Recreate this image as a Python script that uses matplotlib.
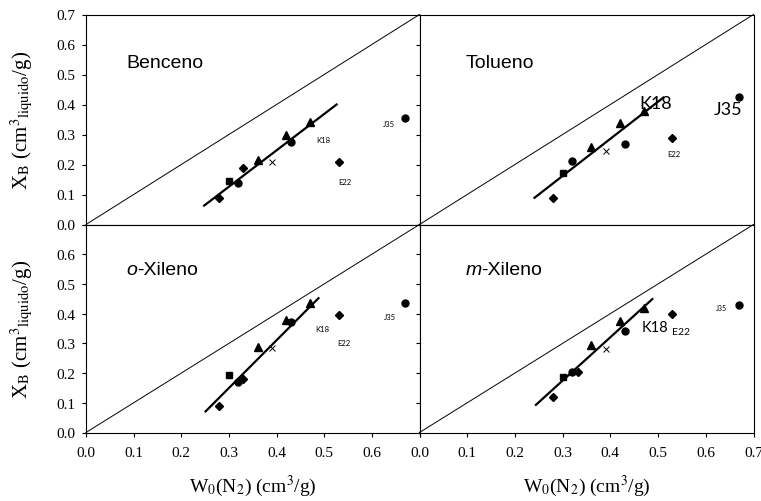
import matplotlib
matplotlib.use("Agg")
import matplotlib.pyplot as plt

plt.rcParams["font.family"] = "Liberation Serif"
plt.rcParams["mathtext.fontset"] = "stix"

# -----------------------------
# Data
# -----------------------------
panel_names = ["Benceno", "Tolueno", "o-Xileno", "m-Xileno"]

diamond_x = [[0.28, 0.33, 0.53], [0.28, 0.53], [0.28, 0.33, 0.53], [0.28, 0.332, 0.53]]
diamond_y = [[0.09, 0.19, 0.21], [0.088, 0.29], [0.088, 0.18, 0.395], [0.12, 0.205, 0.40]]

square_x = [[0.30], [0.30], [0.30], [0.30]]
square_y = [[0.145], [0.173], [0.195], [0.188]]

circle_x = [[0.32, 0.43, 0.67], [0.32, 0.43, 0.67], [0.32, 0.43, 0.67], [0.32, 0.43, 0.67]]
circle_y = [[0.14, 0.275, 0.355], [0.212, 0.268, 0.425], [0.17, 0.373, 0.436], [0.203, 0.343, 0.428]]

triangle_x = [[0.36, 0.42, 0.47], [0.36, 0.42, 0.47], [0.36, 0.42, 0.47], [0.36, 0.42, 0.47]]
triangle_y = [[0.215, 0.30, 0.343], [0.26, 0.34, 0.378], [0.289, 0.38, 0.437], [0.295, 0.374, 0.42]]

cross_x = [[0.39], [0.39], [0.39], [0.39]]
cross_y = [[0.21], [0.246], [0.283], [0.282]]

fit_x = [[0.248, 0.526], [0.241, 0.511], [0.251, 0.488], [0.244, 0.488]]
fit_y = [[0.063, 0.40], [0.089, 0.423], [0.071, 0.452], [0.093, 0.449]]

# sample labels: (text, x, y, fontsize)
sample_labels = [
    [("K18", 0.498, 0.284, 5.5), ("E22", 0.543, 0.142, 5.5), ("J35", 0.635, 0.336, 5.5)],
    [("K18", 0.496, 0.405, 13), ("E22", 0.532, 0.237, 5.5), ("J35", 0.647, 0.385, 13)],
    [("K18", 0.495, 0.349, 5.5), ("E22", 0.541, 0.302, 5.5), ("J35", 0.637, 0.39, 5.5)],
    [("K18", 0.494, 0.355, 10.5), ("E22", 0.548, 0.34, 7.5), ("J35", 0.633, 0.419, 5)],
]

ticks = [0.0, 0.1, 0.2, 0.3, 0.4, 0.5, 0.6, 0.7]

W, H = 761, 502
fig = plt.figure(figsize=(W / 100, H / 100), dpi=100)

# panel boxes in pixels: (left, top, right, bottom)
boxes = [
    (86, 15.5, 419.5, 225.5),
    (419.5, 15.5, 753.5, 225.5),
    (86, 225.5, 419.5, 433.5),
    (419.5, 225.5, 753.5, 433.5),
]

for i, (l, t, r, b) in enumerate(boxes):
    ax = fig.add_axes([l / W, 1 - b / H, (r - l) / W, (b - t) / H])
    ax.set_xlim(0, 0.7)
    ax.set_ylim(0, 0.7)

    # 1:1 reference line
    ax.plot([0, 0.7], [0, 0.7], color="black", linewidth=0.7, clip_on=False)
    # linear fit
    ax.plot(fit_x[i], fit_y[i], color="black", linewidth=1.6)

    ax.plot(diamond_x[i], diamond_y[i], "D", color="black", markersize=4.5)
    ax.plot(square_x[i], square_y[i], "s", color="black", markersize=5)
    ax.plot(circle_x[i], circle_y[i], "o", color="black", markersize=5)
    ax.plot(triangle_x[i], triangle_y[i], "^", color="black", markersize=5.5)
    ax.plot(cross_x[i], cross_y[i], "x", color="black", markersize=5, markeredgewidth=0.7)

    for txt, tx, ty, fs in sample_labels[i]:
        ax.text(tx, ty, txt, fontsize=fs, family="Lato",
                ha="center", va="center")

    # panel title (italic prefix for the xylenes)
    name = panel_names[i]
    tx0 = 0.085 if i % 2 == 0 else 0.096
    if name[1] == "-":
        pre = ax.text(tx0, 0.535, name[0], fontsize=14, family="Liberation Sans",
                      style="italic", va="baseline")
        ax.annotate(name[1:], xy=(1, 0), xycoords=pre, fontsize=14,
                    family="Liberation Sans", va="bottom", ha="left")
    else:
        ax.text(tx0, 0.54, name, fontsize=14, family="Liberation Sans", va="center")

    ax.set_xticks(ticks)
    ax.set_yticks(ticks)
    ax.tick_params(direction="out", length=3, width=0.8, labelsize=11,
                   colors="black")
    ax.tick_params(axis="x", pad=7)
    ax.tick_params(axis="y", pad=5)

    if i < 2:
        ax.set_xticklabels([])
    else:
        labels = ["%.1f" % v for v in ticks]
        if i == 2:
            labels[-1] = ""
        ax.set_xticklabels(labels)

    if i % 2 == 1:
        ax.set_yticklabels([])
    else:
        labels = ["%.1f" % v for v in ticks]
        if i == 2:
            labels[-1] = ""
        ax.set_yticklabels(labels)

    for sp in ax.spines.values():
        sp.set_linewidth(0.8)

    if i % 2 == 0:
        fig.text(22 / W, 1 - (t + b) / 2 / H,
                 r"X$_\mathrm{B}$ (cm$^3$$_\mathrm{liquido}$/g)",
                 rotation=90, ha="center", va="center", fontsize=15)
    if i >= 2:
        fig.text((l + r) / 2 / W, 1 - 486 / H,
                 r"W$_0$(N$_2$) (cm$^3$/g)",
                 ha="center", va="center", fontsize=14)

fig.savefig("out.png", dpi=100)
